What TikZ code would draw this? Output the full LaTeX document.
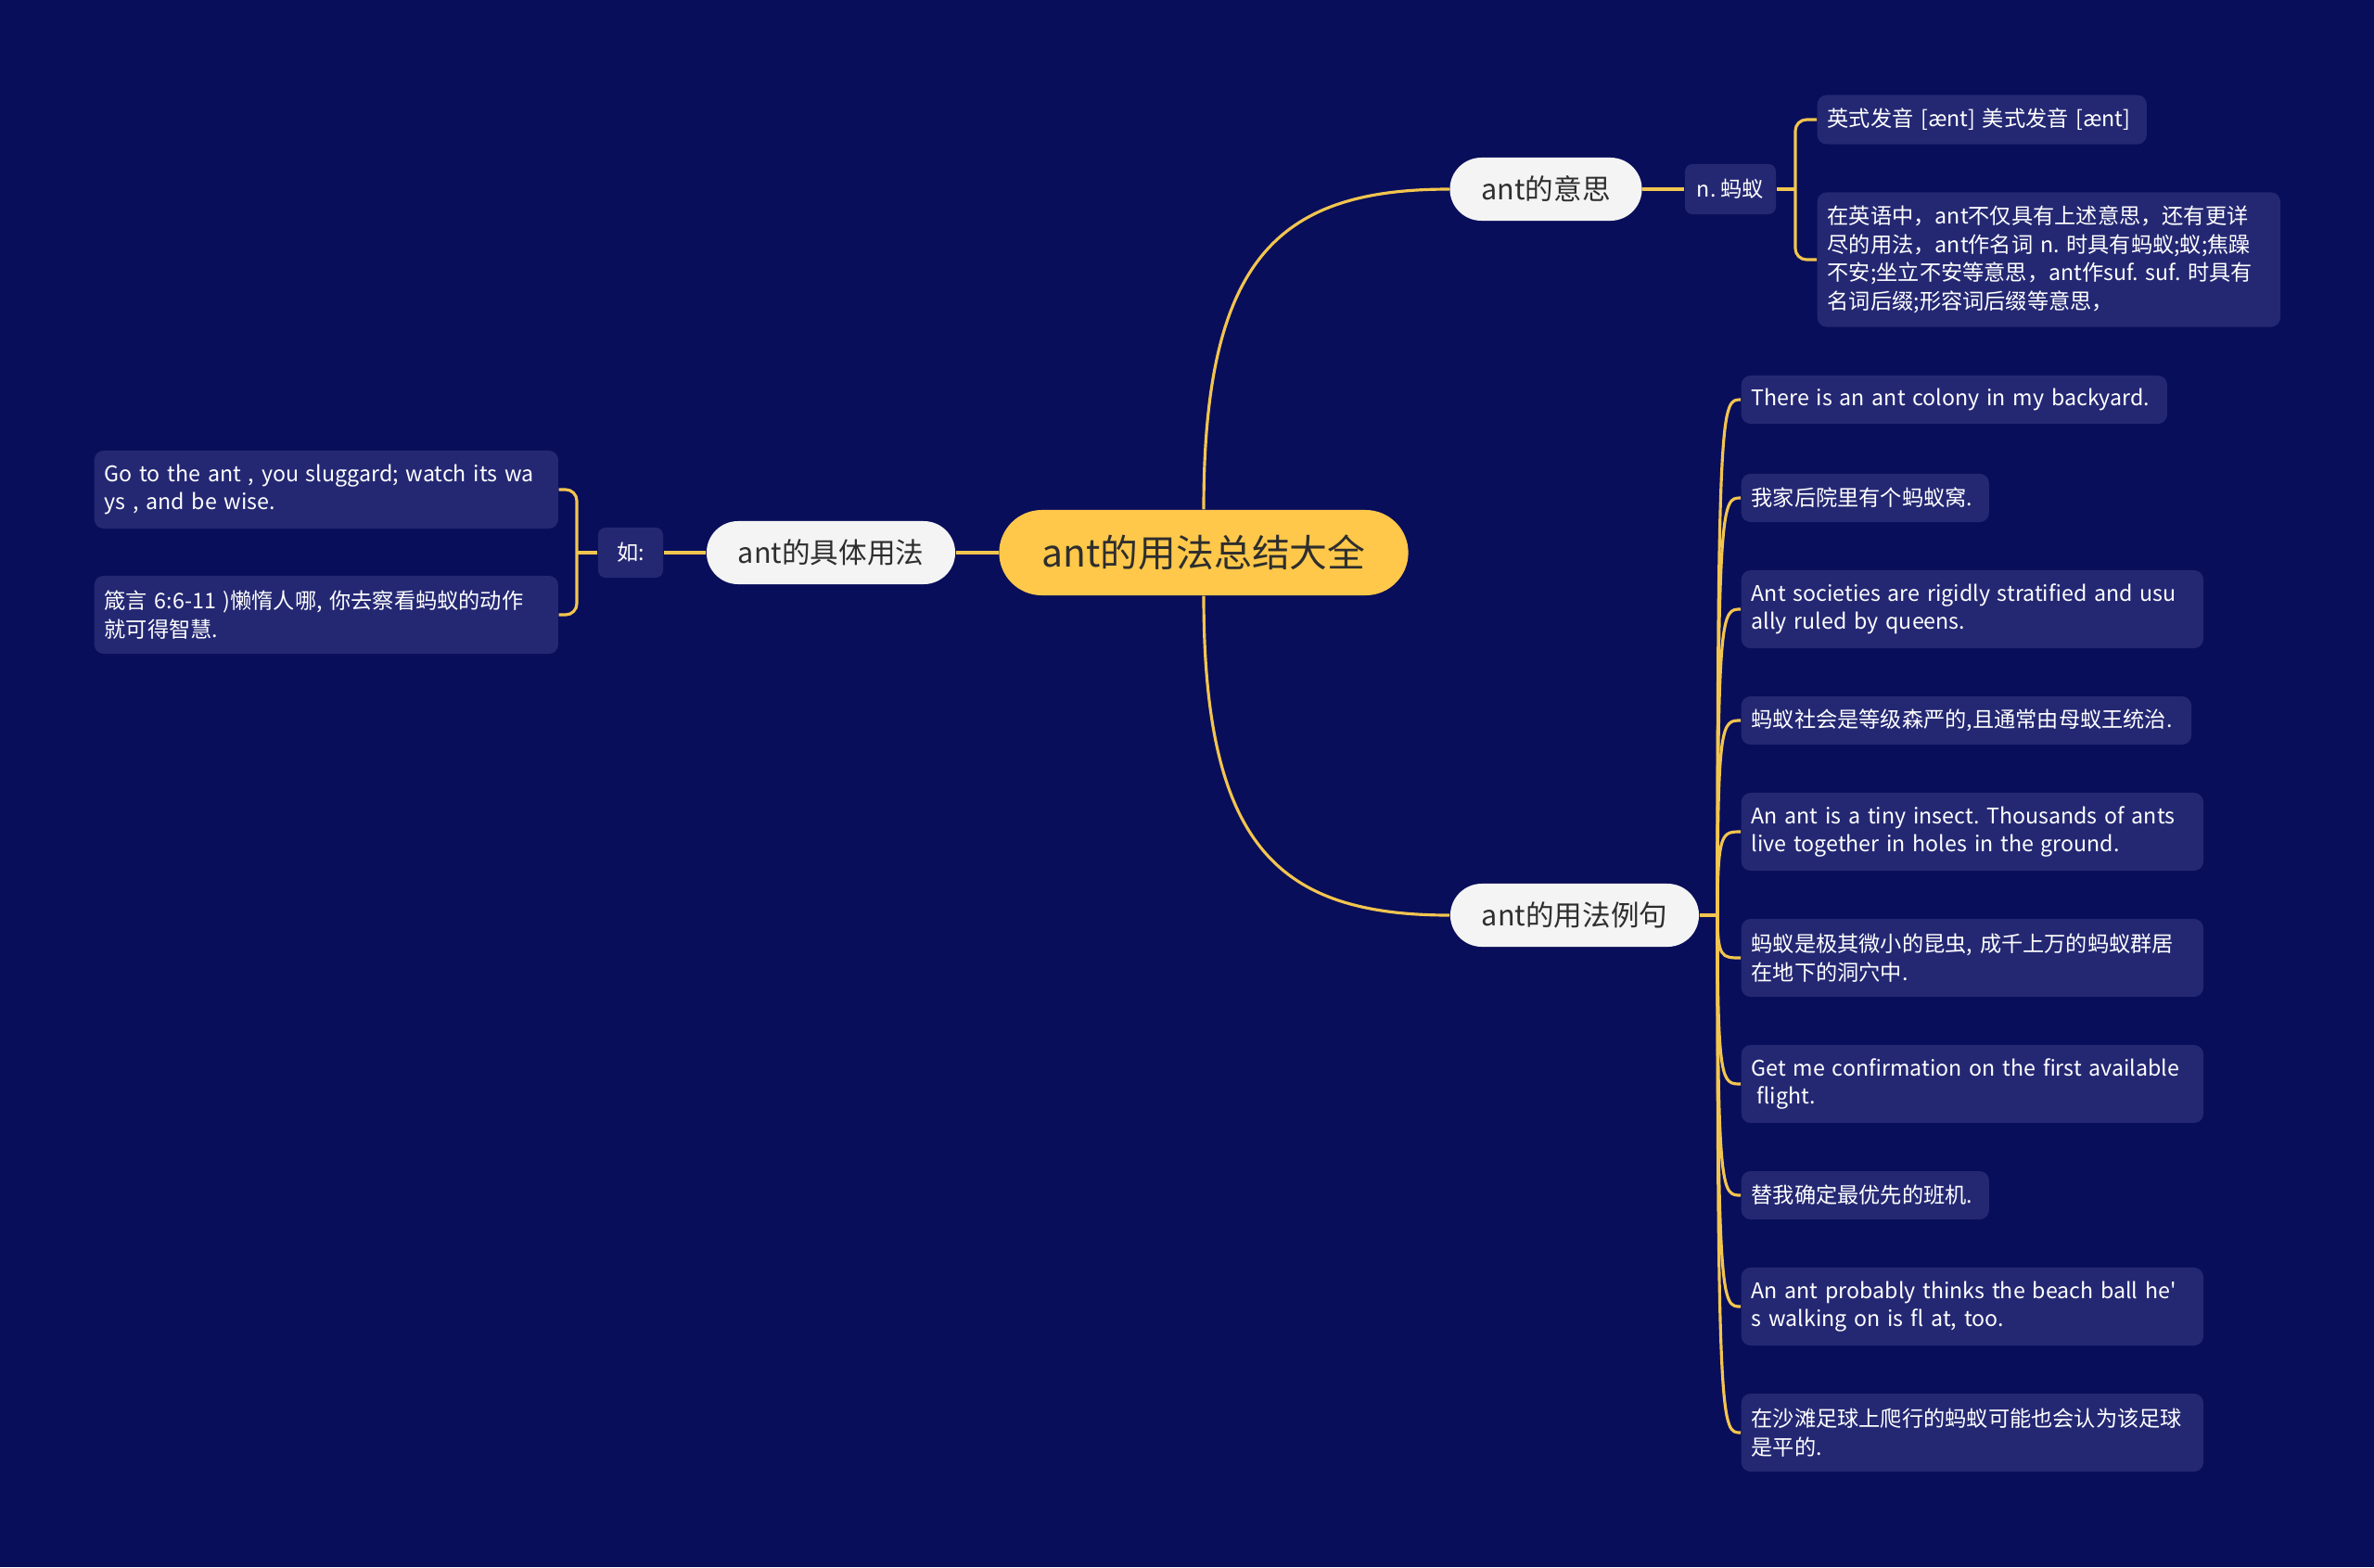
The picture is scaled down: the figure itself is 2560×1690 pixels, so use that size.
\documentclass[tikz,border=0pt]{standalone}
\usepackage{fontspec}
\setmainfont{Noto Sans CJK SC}[Ligatures=TeXOff]
\usetikzlibrary{positioning}

\definecolor{bgnavy}{HTML}{090E5A}
\definecolor{leafblue}{HTML}{242873}
\definecolor{lineyel}{HTML}{F2C54F}
\definecolor{rootyel}{HTML}{FFC84A}
\definecolor{topicwhite}{HTML}{F4F4F4}
\definecolor{darktext}{HTML}{2E2E2E}

\begin{document}
\frenchspacing
\begin{tikzpicture}[
  x=0.01cm, y=-0.01cm,
  ln/.style={draw=lineyel, line width=0.9pt},
  root/.style={fill=rootyel, text=darktext, rounded corners=0.46cm,
               minimum width=4.41cm, minimum height=0.92cm,
               font=\fontsize{11.6}{13}\selectfont},
  topic/.style={fill=topicwhite, text=darktext, rounded corners=0.34cm,
                minimum width=#1, minimum height=0.68cm,
                font=\fontsize{8.7}{10}\selectfont},
  tag/.style={fill=leafblue, text=white, rounded corners=0.08cm,
              minimum width=#1, minimum height=0.54cm,
              font=\fontsize{6.6}{8.7}\selectfont},
  leaf/.style={fill=leafblue, text=white, rounded corners=0.1cm, anchor=west,
               align=left, text width=#1, inner xsep=0.11cm, inner ysep=0pt,
               minimum height=0.52cm, font=\fontsize{6.6}{8.7}\selectfont},
  leaftwo/.style={leaf=#1, minimum height=0.84cm},
]
  \fill[bgnavy] (0,0) rectangle (2560,1690);

  % centre and first level
  \node[root] (root) at (1298,596) {ant的用法总结大全};
  \node[topic=2.07cm] (mean) at (1667,204) {ant的意思};
  \node[topic=2.68cm] (usage) at (896,596) {ant的具体用法};
  \node[topic=2.68cm] (ex) at (1698,987) {ant的用法例句};

  % meaning
  \node[tag=0.98cm] (noun) at (1866,204) {n. 蚂蚁};
  \node[leaf=3.33cm, minimum height=0.53cm] (pron) at (1959,129)
        {英式发音 [ænt] 美式发音 [ænt]};
  \node[leaf=4.77cm, minimum height=1.45cm] (mdesc) at (1959,280)
        {在英语中，ant不仅具有上述意思，还有更详\\尽的用法，ant作名词 n. 时具有蚂蚁;蚁;焦躁\\不安;坐立不安等意思，ant作suf. suf. 时具有\\名词后缀;形容词后缀等意思，};

  % usage
  \node[tag=0.70cm] (ru) at (680,596) {如:};
  \node[leaftwo=4.78cm] (go) at (101,528)
        {Go to the ant , you sluggard; watch its wa\\ys , and be wise.};
  \node[leaftwo=4.78cm] (zhen) at (101,663)
        {箴言 6:6-11 )懒惰人哪, 你去察看蚂蚁的动作\\就可得智慧.};

  % examples
  \node[leaf=4.37cm] (e1) at (1877,431) {There is an ant colony in my backyard.};
  \node[leaf=2.45cm] (e2) at (1877,537) {我家后院里有个蚂蚁窝.};
  \node[leaftwo=4.76cm] (e3) at (1877,657)
        {Ant societies are rigidly stratified and usu\\ally ruled by queens.};
  \node[leaf=4.63cm] (e4) at (1877,777) {蚂蚁社会是等级森严的,且通常由母蚁王统治.};
  \node[leaftwo=4.76cm] (e5) at (1877,897)
        {An ant is a tiny insect. Thousands of ants\\live together in holes in the ground.};
  \node[leaftwo=4.76cm] (e6) at (1877,1033)
        {蚂蚁是极其微小的昆虫, 成千上万的蚂蚁群居\\在地下的洞穴中.};
  \node[leaftwo=4.76cm] (e7) at (1877,1169)
        {Get me confirmation on the first available\\\hspace*{0.25em}flight.};
  \node[leaf=2.45cm] (e8) at (1877,1289) {替我确定最优先的班机.};
  \node[leaftwo=4.76cm] (e9) at (1877,1409)
        {An ant probably thinks the beach ball he'\\s walking on is fl at, too.};
  \node[leaftwo=4.76cm] (e10) at (1877,1545)
        {在沙滩足球上爬行的蚂蚁可能也会认为该足球\\是平的.};

  % connectors
  \draw[ln] (root.north) .. controls +(0,-270) and +(-185,0) .. (mean.west);
  \draw[ln] (root.south) .. controls +(0,270) and +(-185,0) .. (ex.west);
  \draw[ln] (root.west) -- (usage.east);
  \draw[ln] (usage.west) -- (ru.east);

  \coordinate (rb) at (622,596);
  \draw[ln] (ru.west) -- (rb);
  \draw[ln, rounded corners=0.12cm] (go.east) -| (rb) |- (zhen.east);

  \draw[ln] (mean.east) -- (noun.west);
  \coordinate (nb) at (1936,204);
  \draw[ln] (noun.east) -- (nb);
  \draw[ln, rounded corners=0.12cm] (pron.west) -| (nb) |- (mdesc.west);

  \coordinate (eb) at (1852,987);
  \draw[ln] (ex.east) -- (eb);
  \foreach \i in {1,...,10}
    \draw[ln] (eb) .. controls (eb |- e\i.west) and +(-20,0) .. (e\i.west);
\end{tikzpicture}
\end{document}
